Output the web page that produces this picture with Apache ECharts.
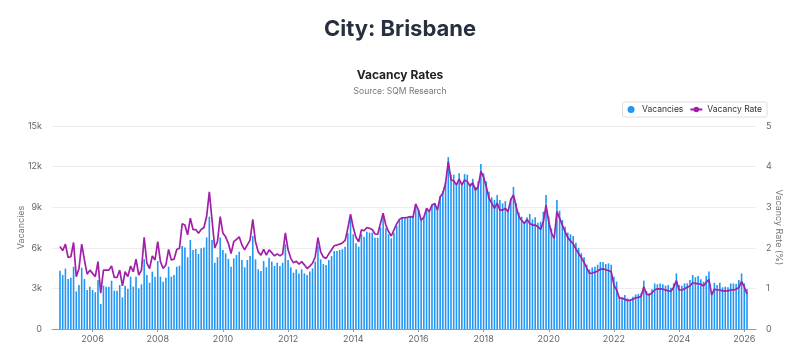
<!DOCTYPE html>
<html>
<head>
<meta charset="utf-8">
<script src="https://cdn.jsdelivr.net/npm/echarts@6/dist/echarts.min.js"></script>
<style>html,body{margin:0;padding:0;background:#fff}#c{width:800px;height:358px}</style>
</head>
<body>
<div id="c"></div>
<script>
// Monthly data, Jan 2005 .. Feb 2026
const startYear = 2005;
const vacancies = [
  // 2005
  4310,3990,4460,3690,3790,4600,2780,3250,4530,3690,2880,3130,
  // 2006
  2880,2710,3620,1850,3200,3130,3130,3570,2830,2830,3250,2340,
  // 2007
  3200,2960,3870,3130,3870,3000,3300,5150,3990,3420,4240,3870,
  // 2008
  5020,3870,3500,3790,4600,3870,3990,4600,4680,6130,6030,5300,
  // 2009
  6580,5840,5910,5540,5960,6030,6770,8300,6580,4900,5300,6770,
  // 2010
  5840,5590,5170,4600,5220,5470,5710,5100,4560,5100,5390,6870,
  // 2011
  5150,4410,4290,5020,4560,5270,4980,4660,4900,4660,4900,6260,
  // 2012
  5100,4560,4160,4410,4110,4410,4110,3990,4240,4480,4980,6130,
  // 2013
  5150,4800,4730,5100,5390,5760,5760,5840,5890,6080,7070,8180,
  // 2014
  7000,6330,6080,7000,6820,7190,7120,7120,6750,6750,7510,8350,
  // 2015
  7440,7000,6700,7120,7610,8050,8230,8230,8250,8300,8250,9210,
  // 2016
  8790,8050,8300,8920,8670,9200,9300,8900,9800,10200,10900,12700,
  // 2017
  11400,11400,10800,11500,10800,11450,11400,10760,11100,10500,10900,12200,
  // 2018
  11500,10900,10150,9730,9530,9900,9530,9290,9460,8790,9660,10500,
  // 2019
  9290,8600,8300,7930,8250,8500,8100,8250,7860,7930,8670,9900,
  // 2020
  8300,7440,6820,9530,8740,8050,7560,7120,7000,6870,6380,6000,
  // 2021
  5600,5300,4750,4400,4550,4600,4750,4950,4950,4800,4850,4750,
  // 2022
  3870,3500,2270,2270,2510,2270,2140,2390,2550,2590,2640,3570,
  // 2023
  2810,2640,2930,3370,3300,3370,3300,3200,3250,3050,3370,4110,
  // 2024
  3250,3200,3370,3370,3620,3990,3820,3920,3670,3500,3920,4240,
  // 2025
  2760,3420,3250,3420,3080,3130,3080,3370,3370,3330,3620,4110,
  // 2026
  3370,2950
];
const vacancyRate = [
  // 2005
  2.03,1.93,2.09,1.76,1.78,2.13,1.29,1.49,2.09,1.70,1.35,1.45,
  // 2006
  1.37,1.29,1.66,0.88,1.45,1.45,1.45,1.55,1.27,1.27,1.45,1.06,
  // 2007
  1.41,1.29,1.55,1.41,1.72,1.33,1.45,2.26,1.62,1.49,1.80,1.70,
  // 2008
  2.15,1.66,1.49,1.58,1.96,1.70,1.72,1.96,1.99,2.59,2.56,2.32,
  // 2009
  2.73,2.45,2.45,2.36,2.45,2.50,2.77,3.38,2.68,2.00,2.15,2.77,
  // 2010
  2.36,2.27,2.11,1.86,2.15,2.21,2.27,2.07,1.95,2.07,2.19,2.70,
  // 2011
  2.15,1.90,1.82,1.96,1.82,1.95,1.88,1.80,1.85,1.80,1.85,2.37,
  // 2012
  1.95,1.74,1.63,1.67,1.60,1.66,1.58,1.49,1.55,1.62,1.78,2.25,
  // 2013
  1.90,1.77,1.74,1.85,1.95,2.05,2.07,2.09,2.12,2.18,2.48,2.83,
  // 2014
  2.50,2.26,2.15,2.44,2.42,2.50,2.48,2.45,2.34,2.33,2.60,2.85,
  // 2015
  2.56,2.40,2.29,2.44,2.59,2.70,2.74,2.74,2.75,2.77,2.75,3.08,
  // 2016
  2.93,2.68,2.75,2.97,2.89,3.05,3.09,2.93,3.25,3.35,3.59,4.12,
  // 2017
  3.67,3.65,3.55,3.69,3.55,3.67,3.63,3.52,3.60,3.42,3.50,3.88,
  // 2018
  3.74,3.50,3.22,3.10,2.97,3.10,2.93,2.93,2.97,2.89,3.18,3.30,
  // 2019
  3.01,2.77,2.68,2.60,2.70,2.60,2.56,2.56,2.52,2.45,2.64,3.05,
  // 2020
  2.64,2.36,2.23,2.89,2.73,2.56,2.40,2.25,2.17,2.10,1.97,1.86,
  // 2021
  1.76,1.64,1.50,1.37,1.38,1.40,1.43,1.47,1.48,1.46,1.44,1.41,
  // 2022
  1.08,0.96,0.76,0.76,0.73,0.70,0.71,0.73,0.77,0.78,0.80,1.04,
  // 2023
  0.86,0.84,0.89,0.96,0.99,0.99,0.98,0.96,0.94,0.93,1.03,1.19,
  // 2024
  0.96,0.96,0.99,1.03,1.06,1.14,1.12,1.12,1.10,1.06,1.15,1.22,
  // 2025
  0.84,0.98,0.96,0.96,0.94,0.94,0.94,0.96,0.96,0.98,1.02,1.17,
  // 2026
  1.04,0.86
];
const yearTicks = [2006,2008,2010,2012,2014,2016,2018,2020,2022,2024,2026];
const leftTicks = ['0','3k','6k','9k','12k','15k'];

// month position as fractional year
const monthX = vacancies.map((_, i) => startYear + i / 12);

const FONT = 'Inter, "Noto Sans", sans-serif';
const chart = echarts.init(document.getElementById('c'), null, {renderer: 'canvas'});
chart.setOption({
  animation: false,
  textStyle: {fontFamily: FONT},
  title: [
    {text: 'City: Brisbane', left: 'center', top: 13,
     textStyle: {fontSize: 22, fontWeight: 'bold', color: '#27303f', fontFamily: FONT}},
    {text: 'Vacancy Rates', left: 'center', top: 64,
     textStyle: {fontSize: 12, fontWeight: 'bold', color: '#222', fontFamily: FONT}},
    {text: 'Source: SQM Research', left: 'center', top: 82,
     textStyle: {fontSize: 8.5, fontWeight: 'normal', color: '#777', fontFamily: FONT}}
  ],
  legend: {
    right: 33, top: 102,
    borderColor: '#dddddd', borderWidth: 1, borderRadius: 2,
    padding: [3, 5, 3, 5],
    itemGap: 6, itemWidth: 12, itemHeight: 7,
    textStyle: {fontSize: 8.5, color: '#333', fontFamily: FONT},
    data: [
      {name: 'Vacancies', icon: 'circle'},
      {name: 'Vacancy Rate'}
    ]
  },
  grid: {left: 52, right: 44, top: 126, bottom: 29},
  xAxis: {
    type: 'value',
    min: 2004.755, max: 2026.36,
    splitLine: {show: false},
    axisLine: {show: true, lineStyle: {color: '#999', width: 1}},
    axisTick: {show: true, customValues: yearTicks, length: 3, lineStyle: {color: '#999'}},
    axisLabel: {customValues: yearTicks, fontSize: 9, color: '#666', margin: 6,
                formatter: v => String(Math.round(v))}
  },
  yAxis: [
    {
      type: 'value', min: 0, max: 15000, interval: 3000,
      name: 'Vacancies', nameLocation: 'middle', nameGap: 26, nameRotate: 90,
      nameMoveOverlap: false,
      nameTextStyle: {fontSize: 9, color: '#777'},
      axisLine: {show: false}, axisTick: {show: false},
      axisLabel: {fontSize: 9, color: '#666', margin: 10,
                  formatter: v => leftTicks[Math.round(v / 3000)]},
      splitLine: {lineStyle: {color: '#efecef', width: 1}}
    },
    {
      type: 'value', min: 0, max: 5, interval: 1, position: 'right',
      name: 'Vacancy Rate (%)', nameLocation: 'middle', nameGap: 18, nameRotate: -90,
      nameMoveOverlap: false,
      nameTextStyle: {fontSize: 9, color: '#777'},
      axisLine: {show: false}, axisTick: {show: false},
      axisLabel: {fontSize: 9, color: '#666', margin: 10},
      splitLine: {show: false}
    }
  ],
  series: [
    {
      name: 'Vacancies', type: 'bar', yAxisIndex: 0,
      barWidth: 1.6,
      itemStyle: {color: '#2196f3'},
      data: vacancies.map((v, i) => [monthX[i], v])
    },
    {
      name: 'Vacancy Rate', type: 'line', yAxisIndex: 1,
      symbol: 'circle', symbolSize: 5, showSymbol: false,
      lineStyle: {color: '#a020a8', width: 1.7},
      itemStyle: {color: '#a020a8'},
      data: vacancyRate.map((v, i) => [monthX[i], v])
    }
  ]
});
</script>
</body>
</html>
